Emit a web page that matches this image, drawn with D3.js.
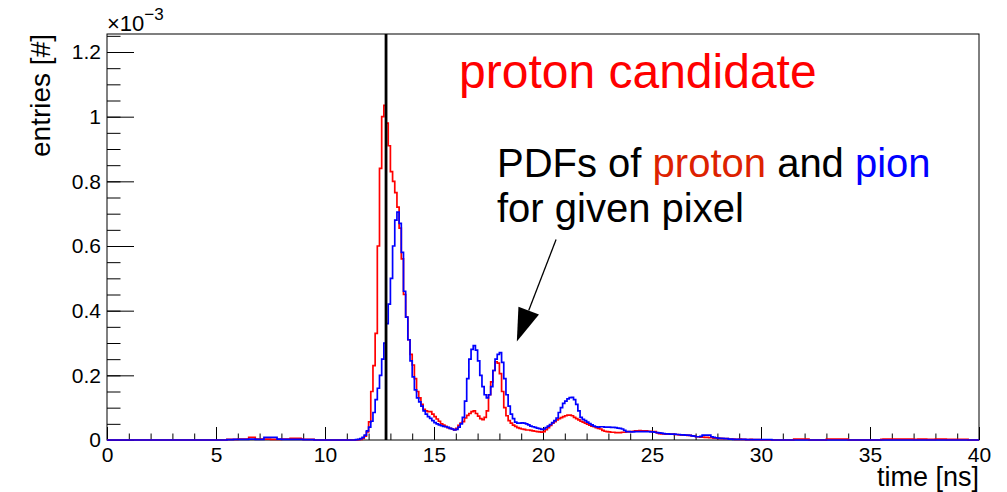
<!doctype html>
<html>
<head>
<style type="text/css">
body { margin: 0; background: #fff; }
svg text { font-family: "Liberation Sans", Arial, sans-serif; }
</style>
</head>
<body>
<svg width="1007" height="492"></svg>
<script src="https://d3js.org/d3.v7.min.js"></script>
<script>
// bin width of both histograms, in ns (400 bins from 0 to 40 ns)
var timeStep = 0.1;

// proton PDF, entries in units of 1e-3, one row = 1 ns
var protonPdf = [
0,0,0,0,0,0,0,0,0,0,
0,0,0,0,0,0,0,0,0,0,
0,0,0,0,0,0,0,0,0,0,
0,0,0,0,0,0,0,0,0,0,
0,0,0,0,0,0,0,0,0,0,
0,0,0,0,0,.002,.002,.002,.002,.002,
.003,.003,.003,.003,.003,.008,.008,.008,.003,.003,
.003,.003,.003,.003,.003,.002,.002,.002,.002,.002,
.003,.003,.003,.003,.005,.005,.005,.005,.005,.003,
.002,.002,.002,.002,.002,0,0,0,0,0,
0,0,0,0,0,0,0,0,0,0,
0,0,0,0,0,.001,.002,.005,.012,.025,
.056,.15,.23,.33,.6,.84,1.0,1.035,.98,.91,
.83,.80,.765,.72,.655,.56,.45,.38,.31,.265,
.232,.19,.15,.13,.11,.095,.09,.088,.088,.08,
.072,.065,.058,.05,.046,.042,.038,.036,.034,.031,
.036,.045,.052,.057,.068,.076,.082,.088,.09,.082,
.074,.066,.063,.07,.09,.14,.18,.215,.242,.238,
.205,.15,.1,.075,.06,.052,.046,.042,.038,.036,
.034,.033,.031,.031,.03,.028,.027,.026,.025,.024,
.026,.032,.038,.045,.052,.057,.062,.066,.069,.072,
.075,.077,.077,.075,.07,.066,.062,.058,.055,.052,
.049,.046,.043,.041,.038,.036,.034,.03,.027,.026,
.025,.024,.024,.023,.023,.023,.024,.024,.025,.026,
.026,.027,.028,.028,.029,.028,.028,.028,.027,.027,
.026,.026,.022,.02,.019,.019,.018,.018,.018,.018,
.017,.017,.016,.016,.015,.015,.014,.014,.013,.012,
.01,.01,.009,.009,.008,.008,.007,.007,.006,.006,
.005,.005,.004,.004,.004,.003,.003,.003,.002,.002,
.003,.002,.002,.001,.001,.002,.001,.001,.001,.001,
0,0,0,0,0,0,0,0,0,0,
0,0,0,0,0,.003,.003,.003,.003,.003,
.003,.003,0,0,0,0,0,0,0,0,
.003,.003,.003,.003,.003,.003,.003,.003,.003,.003,
0,0,0,0,0,0,0,0,0,0,
0,0,0,0,0,.002,.003,.003,.003,.003,
.003,.003,.003,.003,.003,.003,.003,.003,.003,.003,
.002,.002,.003,.003,.003,.003,.002,.002,.002,.002,
.003,.003,.003,.003,.003,.002,.002,.002,.002,.002,
.002,.002,.002,.002,.002,0,0,0,0,0
];

// pion PDF, same binning
var pionPdf = [
0,0,0,0,0,0,0,0,0,0,
0,0,0,0,0,0,0,0,0,0,
0,0,0,0,0,0,0,0,0,0,
0,0,0,0,0,0,0,0,0,0,
0,0,0,0,0,0,0,0,0,0,
0,0,0,0,0,.001,.001,.001,.002,.002,
.002,.002,.002,.002,.002,.003,.003,.003,.002,.002,
.002,.002,.008,.008,.008,.008,.008,.008,.003,.003,
.002,.002,.002,.002,.002,.002,.002,.002,.002,.002,
.001,.001,.001,.001,.001,0,0,0,0,0,
0,0,0,0,0,0,0,0,0,0,
0,0,0,0,.001,.002,.004,.008,.015,.028,
.04,.058,.085,.125,.16,.2,.25,.3,.36,.42,
.5,.6,.68,.705,.67,.58,.46,.38,.31,.245,
.195,.155,.13,.118,.105,.09,.08,.072,.067,.06,
.054,.05,.047,.044,.042,.041,.039,.036,.034,.031,
.033,.04,.05,.07,.12,.19,.25,.28,.292,.278,
.245,.2,.165,.14,.13,.14,.165,.215,.25,.265,
.27,.24,.19,.14,.105,.08,.066,.055,.052,.052,
.053,.052,.05,.047,.043,.041,.039,.037,.035,.033,
.034,.038,.043,.048,.054,.06,.068,.085,.1,.113,
.12,.127,.131,.132,.125,.11,.09,.07,.064,.06,
.055,.051,.047,.043,.041,.04,.041,.041,.04,.04,
.04,.039,.039,.038,.037,.036,.034,.03,.026,.026,
.025,.025,.026,.026,.026,.026,.026,.026,.026,.025,
.025,.024,.023,.022,.021,.02,.019,.019,.018,.018,
.018,.017,.017,.016,.016,.015,.015,.014,.013,.012,
.01,.01,.011,.015,.015,.015,.015,.01,.008,.007,
.006,.005,.005,.004,.004,.003,.003,.002,.002,.002,
.002,.002,.002,.001,.001,.001,.001,.001,.001,.001,
.001,.001,.001,.001,.001,0,0,0,0,0,
0,0,0,0,0,0,0,0,0,0,
0,0,0,0,0,0,0,0,0,0,
0,0,0,0,0,0,0,0,0,0,
0,0,0,0,0,0,0,0,0,0,
0,0,0,0,0,0,0,0,0,0,
0,0,0,0,0,0,0,0,0,0,
0,0,0,0,0,0,0,0,0,0,
0,0,0,0,0,0,0,0,0,0,
0,0,0,0,0,0,0,0,0,0
];

var xTicks = [0, 5, 10, 15, 20, 25, 30, 35, 40];
var xMinorTicks = d3.range(0, 41, 1);
var yTicks = [0, 0.2, 0.4, 0.6, 0.8, 1.0, 1.2];
var yMinorTicks = d3.range(0, 26).map(function(i){ return i * 0.05; });
var cutTime = 12.8;            // selected hit time
var arrowTail = [20.6, 0.62];  // annotation arrow, data coords
var arrowTip = [18.8, 0.305];

(function() {
  var svg = d3.select("svg");
  var mLeft = 107, mRight = 979, mTop = 34, mBottom = 440;

  var x = d3.scaleLinear().domain([0, 40]).range([mLeft, mRight]);
  var y = d3.scaleLinear().domain([0, 1.2557]).range([mBottom, mTop]);

  // frame
  svg.append("rect")
      .attr("x", mLeft).attr("y", mTop)
      .attr("width", mRight - mLeft).attr("height", mBottom - mTop)
      .attr("fill", "none").attr("stroke", "black").attr("stroke-width", 1);

  // x axis
  svg.append("g")
      .attr("transform", "translate(0," + mBottom + ")")
      .call(d3.axisBottom(x).tickValues(xTicks).tickSize(-13).tickPadding(7)
          .tickFormat(d3.format("d")));
  svg.append("g")
      .attr("transform", "translate(0," + mBottom + ")")
      .call(d3.axisBottom(x).tickValues(xMinorTicks).tickSize(-6.5).tickFormat(""));

  // y axis
  svg.append("g")
      .attr("transform", "translate(" + mLeft + ",0)")
      .call(d3.axisLeft(y).tickValues(yTicks).tickSize(-27).tickPadding(6)
          .tickFormat(function(d){ return d3.format("~g")(d); }));
  svg.append("g")
      .attr("transform", "translate(" + mLeft + ",0)")
      .call(d3.axisLeft(y).tickValues(yMinorTicks).tickSize(-13.5).tickFormat(""));

  svg.selectAll(".domain").remove();
  svg.selectAll(".tick line").attr("stroke", "black").attr("stroke-width", 1);
  svg.selectAll(".tick text")
      .style("font-size", "21px").style("fill", "black")
      .style("font-family", "'Liberation Sans', Arial, sans-serif");

  // histograms (step lines)
  function steps(vals) {
    var pts = vals.map(function(v, i){ return [i * timeStep, v]; });
    pts.push([vals.length * timeStep, vals[vals.length - 1]]);
    return pts;
  }
  var line = d3.line()
      .x(function(d){ return x(d[0]); })
      .y(function(d){ return y(d[1]); })
      .curve(d3.curveStepAfter);

  svg.append("path").datum(steps(protonPdf))
      .attr("d", line).attr("fill", "none")
      .attr("stroke", "#ff0000").attr("stroke-width", 1.7);
  svg.append("path").datum(steps(pionPdf))
      .attr("d", line).attr("fill", "none")
      .attr("stroke", "#0000ff").attr("stroke-width", 1.7);

  // cut line
  svg.append("line")
      .attr("x1", x(cutTime)).attr("x2", x(cutTime))
      .attr("y1", mTop).attr("y2", mBottom)
      .attr("stroke", "black").attr("stroke-width", 2.8);

  // axis titles
  svg.append("text")
      .attr("x", mRight).attr("y", 485.5)
      .attr("text-anchor", "end").style("font-size", "27px")
      .text("time [ns]");
  svg.append("text")
      .attr("transform", "translate(50," + mTop + ") rotate(-90)")
      .attr("text-anchor", "end").style("font-size", "28px")
      .text("entries [#]");

  // exponent
  var expo = svg.append("text").attr("x", mLeft).attr("y", 31).style("font-size", "22px");
  expo.append("tspan").text("\u00d710");
  expo.append("tspan").attr("dy", -11).style("font-size", "17px").text("\u22123");

  // annotations
  svg.append("text")
      .attr("x", 459).attr("y", 88)
      .style("font-size", "48px").style("fill", "#ff0000")
      .text("proton candidate");

  var note = svg.append("text").attr("x", 497).attr("y", 177).style("font-size", "40px");
  note.append("tspan").text("PDFs of ");
  note.append("tspan").style("fill", "#dd2200").text("proton");
  note.append("tspan").text(" and ");
  note.append("tspan").style("fill", "#0000ff").text("pion");
  svg.append("text").attr("x", 497).attr("y", 222).style("font-size", "40px")
      .text("for given pixel");

  // arrow
  var tx = x(arrowTail[0]), ty = y(arrowTail[1]);
  var hx = x(arrowTip[0]), hy = y(arrowTip[1]);
  var dx = hx - tx, dy = hy - ty, len = Math.sqrt(dx * dx + dy * dy);
  var ux = dx / len, uy = dy / len;
  var headLen = 33, headHalf = 11;
  var bx = hx - ux * headLen, by = hy - uy * headLen;
  svg.append("line")
      .attr("x1", tx).attr("y1", ty).attr("x2", bx).attr("y2", by)
      .attr("stroke", "black").attr("stroke-width", 1.3);
  svg.append("path")
      .attr("d", "M" + hx + "," + hy +
                 "L" + (bx - uy * headHalf) + "," + (by + ux * headHalf) +
                 "L" + (bx + uy * headHalf) + "," + (by - ux * headHalf) + "Z")
      .attr("fill", "black");
})();
</script>
</body>
</html>
